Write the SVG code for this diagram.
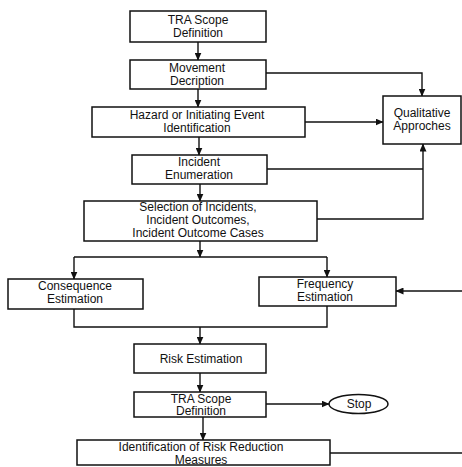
<svg xmlns="http://www.w3.org/2000/svg" width="462" height="467" viewBox="0 0 462 467">
<defs>
<marker id="ah" markerUnits="userSpaceOnUse" markerWidth="8" markerHeight="7" refX="7.5" refY="3.5" orient="auto">
<path d="M0,0 L8,3.5 L0,7 z" fill="#111"/>
</marker>
<style>
.box{fill:#fff;stroke:#111;stroke-width:1.5}
.ln{fill:none;stroke:#111;stroke-width:1.4}
.ar{marker-end:url(#ah)}
text{font-family:"Liberation Sans",Arial,sans-serif;font-size:12px;fill:#111;text-anchor:middle}
</style>
</defs>
<rect width="462" height="467" fill="#fff"/>
<g id="connectors">
<path class="ln ar" d="M198,42 V60"/>
<path class="ln ar" d="M198,89 V107"/>
<path class="ln ar" d="M199,137 V155"/>
<path class="ln ar" d="M200,184 V201"/>
<path class="ln ar" d="M200,241 V257"/>
<path class="ln" d="M74,257 H327"/>
<path class="ln ar" d="M74,257 V279"/>
<path class="ln ar" d="M327,257 V277"/>
<path class="ln ar" d="M266,73 H422 V96"/>
<path class="ln ar" d="M305,122 H383"/>
<path class="ln" d="M267,169 H423"/>
<path class="ln ar" d="M317,219 H423 V144"/>
<path class="ln ar" d="M462,291 H396"/>
<path class="ln" d="M74,309 V327 H327 V306"/>
<path class="ln ar" d="M200,327 V344"/>
<path class="ln ar" d="M200,373 V392"/>
<path class="ln ar" d="M266,404 H329"/>
<path class="ln ar" d="M203,417 V440"/>
<path class="ln" d="M330,453 H462"/>
</g>
<g id="tra-scope-1"><rect class="box" x="130" y="11" width="136" height="31"/><text x="198" y="23.5">TRA Scope</text><text x="198" y="36.5">Definition</text></g>
<g id="movement"><rect class="box" x="130" y="60" width="136" height="29"/><text x="197" y="72">Movement</text><text x="197" y="85">Decription</text></g>
<g id="hazard"><rect class="box" x="92" y="107" width="213" height="30"/><text x="197" y="119">Hazard or Initiating Event</text><text x="197" y="132">Identification</text></g>
<g id="qualitative"><rect class="box" x="383" y="96" width="78" height="48"/><text x="422" y="117">Qualitative</text><text x="422" y="130">Approches</text></g>
<g id="incident-enum"><rect class="box" x="132" y="155" width="135" height="29"/><text x="199" y="166">Incident</text><text x="199" y="179">Enumeration</text></g>
<g id="selection"><rect class="box" x="84" y="201" width="233" height="40"/><text x="198" y="211">Selection of Incidents,</text><text x="198" y="224">Incident Outcomes,</text><text x="198" y="237">Incident Outcome Cases</text></g>
<g id="consequence"><rect class="box" x="8" y="279" width="135" height="30"/><text x="75" y="290">Consequence</text><text x="75" y="303">Estimation</text></g>
<g id="frequency"><rect class="box" x="259" y="277" width="137" height="29"/><text x="325" y="288">Frequency</text><text x="325" y="301">Estimation</text></g>
<g id="risk"><rect class="box" x="134" y="344" width="132" height="29"/><text x="201" y="363">Risk Estimation</text></g>
<g id="tra-scope-2"><rect class="box" x="134" y="392" width="132" height="25"/><text x="201" y="402.5">TRA Scope</text><text x="201" y="415">Definition</text></g>
<g id="stop"><ellipse class="box" cx="358.5" cy="404" rx="29.5" ry="9.5"/><text x="359" y="408">Stop</text></g>
<g id="identification"><rect class="box" x="77" y="440" width="253" height="25"/><text x="201" y="451">Identification of Risk Reduction</text><text x="201" y="464">Measures</text></g>
</svg>
